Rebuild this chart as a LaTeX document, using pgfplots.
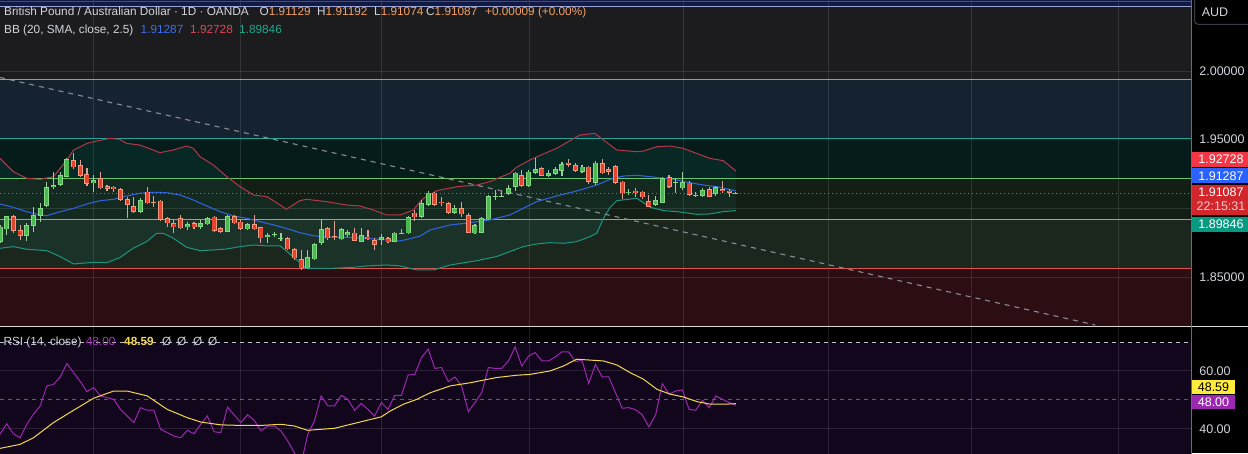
\documentclass[border=0pt]{standalone}
\usepackage{fontspec}
\setmainfont{Liberation Sans}
\usepackage{pgfplots}
\pgfplotsset{compat=1.18}
\usepackage{pgfplotstable}

\definecolor{zTop}{HTML}{101A45}
\definecolor{zGrey}{HTML}{1C1C1E}
\definecolor{zNavy}{HTML}{152230}
\definecolor{zTeal}{HTML}{061C1A}
\definecolor{zGreen}{HTML}{131E14}
\definecolor{zOlive}{HTML}{1B271D}
\definecolor{zRed}{HTML}{2B0D12}
\definecolor{lTop1}{HTML}{3A4AA0}
\definecolor{lTop2}{HTML}{9AA3D6}
\definecolor{lBlue}{HTML}{6AA6DC}
\definecolor{lTeal}{HTML}{26A69A}
\definecolor{lGreen}{HTML}{6FC36E}
\definecolor{lRed}{HTML}{E05252}
\definecolor{bbUc}{HTML}{B2394A}
\definecolor{bbMc}{HTML}{2F62D8}
\definecolor{bbLc}{HTML}{1E9480}
\definecolor{bbFill}{HTML}{26A69A}
\definecolor{trend}{HTML}{8A8D96}
\definecolor{curp}{HTML}{E0552E}
\definecolor{gBody}{HTML}{4CB850}
\definecolor{gEdge}{HTML}{86D886}
\definecolor{gWick}{HTML}{9ACF9A}
\definecolor{rBody}{HTML}{E4432D}
\definecolor{rEdge}{HTML}{F29A80}
\definecolor{rWick}{HTML}{E0A298}
\definecolor{rsiBg}{HTML}{12061D}
\definecolor{rsiLine}{HTML}{9C27B0}
\definecolor{rsiTxt}{HTML}{A43CB8}
\definecolor{rsiMA}{HTML}{F2D94A}
\definecolor{txt}{HTML}{D1D4DC}
\definecolor{orng}{HTML}{F5A062}
\definecolor{sepc}{HTML}{D8D8D8}
\definecolor{scaleLine}{HTML}{6A6D78}
\definecolor{boxRed}{HTML}{F23645}
\definecolor{boxBlue}{HTML}{2962FF}
\definecolor{boxCur}{HTML}{D1262B}
\definecolor{boxTeal}{HTML}{089981}
\definecolor{boxYel}{HTML}{FFEB3B}
\definecolor{boxPur}{HTML}{9C27B0}
\definecolor{hBlue}{HTML}{3D6FE8}
\definecolor{hRed}{HTML}{E04553}
\definecolor{hTeal}{HTML}{22A88E}
\definecolor{timer}{HTML}{FAC8C8}
\definecolor{audb}{HTML}{3A3D48}

\pgfplotstableread{
k o h l c
0 1.87586 1.88799 1.87465 1.88678
1 1.88484 1.89480 1.88071 1.89454
4 1.87998 1.88920 1.87659 1.88799
5 1.88750 1.90085 1.88314 1.89527
6 1.89478 1.90376 1.89042 1.90012
7 1.90182 1.91953 1.90085 1.91540
8 1.91540 1.92680 1.91395 1.91710
9 1.91710 1.92680 1.91637 1.92438
10 1.92317 1.93651 1.92268 1.93578
14 1.91831 1.92438 1.91225 1.92074
21 1.89769 1.90740 1.89697 1.90619
28 1.88629 1.89042 1.88435 1.88847
30 1.88678 1.89163 1.88532 1.88920
31 1.88847 1.89357 1.88799 1.89284
34 1.88314 1.89527 1.88289 1.89454
37 1.88484 1.88920 1.88435 1.88847
40 1.87901 1.88192 1.87465 1.88047
41 1.88071 1.88314 1.87901 1.88120
42 1.87756 1.88192 1.87659 1.87829
46 1.85645 1.86980 1.85572 1.86446
47 1.86300 1.87513 1.86252 1.87392
48 1.87513 1.89211 1.87343 1.88484
51 1.87756 1.88556 1.87707 1.88484
52 1.88047 1.88435 1.87901 1.88289
54 1.87586 1.88556 1.87538 1.88047
57 1.87707 1.88144 1.87343 1.87901
59 1.87586 1.88314 1.87538 1.88241
60 1.88168 1.88484 1.88144 1.88217
61 1.88192 1.89454 1.88144 1.89357
63 1.89406 1.90619 1.89284 1.90376
64 1.90255 1.91298 1.90182 1.91153
68 1.89697 1.90255 1.89600 1.90012
71 1.88193 1.88872 1.88144 1.88799
72 1.88241 1.89406 1.88193 1.89284
73 1.89212 1.90983 1.89163 1.90910
74 1.90813 1.91347 1.90619 1.90910
75 1.90861 1.91298 1.90813 1.90910
76 1.91055 1.91710 1.90983 1.91468
77 1.91589 1.92681 1.91298 1.92608
79 1.91638 1.92802 1.91589 1.92681
80 1.92608 1.93651 1.92511 1.92851
82 1.92390 1.92802 1.92317 1.92559
83 1.92511 1.92996 1.92438 1.92851
84 1.92754 1.93409 1.92365 1.93239
87 1.92681 1.93166 1.92608 1.93045
89 1.91880 1.93481 1.91686 1.93336
94 1.91104 1.91395 1.90983 1.91225
98 1.90255 1.90910 1.90182 1.90619
99 1.90425 1.92317 1.90376 1.92196
101 1.91880 1.92123 1.91153 1.91953
102 1.91468 1.92681 1.91347 1.91929
105 1.90910 1.91468 1.90861 1.91347
107 1.91055 1.91638 1.90910 1.91540
}\greentab

\pgfplotstableread{
k o h l c
2 1.89454 1.89527 1.88192 1.88387
3 1.88435 1.88799 1.87707 1.87998
11 1.93530 1.94015 1.92850 1.92996
12 1.93166 1.93530 1.92317 1.92389
13 1.92511 1.92923 1.91637 1.91783
15 1.92195 1.92680 1.91395 1.91468
16 1.91637 1.91710 1.91298 1.91443
17 1.91589 1.91662 1.91225 1.91395
18 1.91395 1.91468 1.90570 1.90619
19 1.90667 1.90861 1.89284 1.90255
20 1.90182 1.90861 1.89697 1.89745
22 1.91225 1.91540 1.90327 1.90376
23 1.90497 1.90910 1.90133 1.90424
24 1.90570 1.90619 1.89114 1.89163
25 1.89284 1.89357 1.88629 1.88920
26 1.88920 1.89163 1.88192 1.88629
27 1.89284 1.89527 1.88508 1.88556
29 1.88920 1.89042 1.88484 1.88629
32 1.89405 1.89454 1.88314 1.88362
33 1.88556 1.88678 1.88192 1.88314
35 1.89454 1.89527 1.88872 1.88920
36 1.89042 1.89163 1.88435 1.88508
38 1.88847 1.89527 1.88435 1.88484
39 1.88629 1.88678 1.87465 1.87829
43 1.87829 1.87950 1.86980 1.87028
44 1.87028 1.87101 1.86252 1.86373
45 1.86300 1.86980 1.85524 1.85645
49 1.88556 1.88678 1.87707 1.87829
50 1.87998 1.89114 1.87707 1.87901
53 1.88241 1.88556 1.87635 1.87659
55 1.87950 1.88435 1.87707 1.87756
56 1.87707 1.87829 1.86980 1.87343
58 1.87829 1.87901 1.87465 1.87538
62 1.89697 1.89891 1.89100 1.89357
65 1.91153 1.91225 1.90182 1.90255
66 1.90497 1.90813 1.90182 1.90376
67 1.90376 1.90497 1.89600 1.89697
69 1.90012 1.90497 1.89406 1.89575
70 1.89527 1.89648 1.88193 1.88241
78 1.92438 1.92802 1.91589 1.91638
81 1.92923 1.93045 1.92365 1.92390
85 1.93336 1.93578 1.93045 1.93190
86 1.93166 1.93336 1.92681 1.92754
88 1.93045 1.93093 1.91783 1.91953
90 1.93287 1.93578 1.92511 1.92559
91 1.92851 1.93045 1.92438 1.92681
92 1.93093 1.93166 1.91783 1.91880
93 1.91953 1.92026 1.90667 1.91104
95 1.91298 1.91468 1.90813 1.91104
96 1.91225 1.91298 1.90667 1.90813
97 1.90546 1.90983 1.90085 1.90133
100 1.92268 1.92438 1.91468 1.91589
103 1.91880 1.92026 1.90910 1.90983
104 1.90983 1.91225 1.90813 1.90910
106 1.91395 1.91589 1.90813 1.90861
108 1.91419 1.92026 1.91104 1.91298
109 1.91298 1.91395 1.90861 1.91153
110 1.91129 1.91192 1.91074 1.91087
}\redtab

\pgfplotstableread{
k p
0 1.93651
2 1.92680
4 1.92195
6 1.92123
8 1.92317
10 1.93530
11 1.94257
13 1.94743
14 1.94864
16.4 1.95106
17.9 1.95034
18.9 1.94743
20.9 1.94621
22.9 1.94257
23.9 1.94063
25.9 1.94257
27.9 1.94549
28.9 1.94379
29.9 1.93772
31.9 1.93166
33.9 1.92317
35.9 1.91589
37.9 1.90982
39.9 1.90861
41.9 1.90255
42.8 1.89939
44.8 1.90570
45.8 1.90667
48.8 1.90497
51.8 1.90255
53.8 1.90182
55.8 1.89891
57.8 1.89527
59.8 1.89527
61.8 1.89891
62.8 1.90497
63.3 1.90740
65.3 1.91298
68.3 1.91589
71.3 1.91710
73.2 1.91953
75.2 1.92365
76.2 1.92559
77.2 1.92996
79.2 1.93530
81.2 1.93966
83.2 1.94379
85.2 1.94937
86.7 1.95349
88.9 1.95471
90.2 1.94985
92.2 1.94258
95.2 1.94136
96.2 1.94185
98.2 1.94500
100.2 1.94549
102.1 1.94379
104.1 1.94015
106.1 1.93651
108.1 1.93481
110 1.92728
}\bbU

\pgfplotstableread{
k p
0 1.90327
2 1.90085
4 1.89769
6 1.89527
7 1.89478
9 1.89769
11 1.90012
13 1.90327
15 1.90570
17 1.90667
18.9 1.90910
20.9 1.91104
22.9 1.91176
24.9 1.91152
26.9 1.90982
28.9 1.90619
30.9 1.90182
32.9 1.89769
34.9 1.89454
36.9 1.89284
38.9 1.89042
40.9 1.88799
42.8 1.88556
44.8 1.88241
46.8 1.88023
48.8 1.87902
51.8 1.87902
54.8 1.87829
57.8 1.87707
59.8 1.87635
61.3 1.87800
62.8 1.87998
64.3 1.88435
67.3 1.88799
70.3 1.88969
73.2 1.89163
76.2 1.89527
78.2 1.90012
80.2 1.90497
83.2 1.90910
86.2 1.91274
89.2 1.91710
91.2 1.92123
93.2 1.92365
95.2 1.92414
97.2 1.92317
99.2 1.92196
101.2 1.92074
103.1 1.91880
105.1 1.91710
107.1 1.91589
110 1.91287
}\bbM

\pgfplotstableread{
k p
0 1.87101
2 1.87222
4 1.87028
7 1.86931
9 1.86494
11 1.85961
14 1.86082
16 1.86058
17.9 1.86421
19.9 1.87101
21.9 1.87586
23.4 1.88192
24.4 1.88192
25.9 1.87829
27.9 1.87174
29.9 1.86931
31.9 1.86980
33.9 1.87052
35.9 1.87222
37.9 1.87343
39.9 1.87271
41.9 1.87271
43.8 1.86494
45.8 1.85645
49.8 1.85645
52.8 1.85718
54.8 1.85815
57.8 1.85888
59.8 1.85815
62.3 1.85524
64.8 1.85524
67.3 1.85888
71.3 1.86203
74.2 1.86495
76.2 1.86858
78.2 1.87223
80.2 1.87416
82.2 1.87514
84.2 1.87465
86.2 1.87586
88.2 1.87950
89.2 1.88193
90.2 1.89284
91.2 1.90085
92.2 1.90570
95.2 1.90740
97.2 1.90085
99.2 1.89842
101.2 1.89770
104.1 1.89576
106.1 1.89600
108.1 1.89770
110 1.89846
}\bbL

% band area: upper band forward, lower band backward
\pgfplotstableread{
k p
0 1.93651
2 1.92680
4 1.92195
6 1.92123
8 1.92317
10 1.93530
11 1.94257
13 1.94743
14 1.94864
16.4 1.95106
17.9 1.95034
18.9 1.94743
20.9 1.94621
22.9 1.94257
23.9 1.94063
25.9 1.94257
27.9 1.94549
28.9 1.94379
29.9 1.93772
31.9 1.93166
33.9 1.92317
35.9 1.91589
37.9 1.90982
39.9 1.90861
41.9 1.90255
42.8 1.89939
44.8 1.90570
45.8 1.90667
48.8 1.90497
51.8 1.90255
53.8 1.90182
55.8 1.89891
57.8 1.89527
59.8 1.89527
61.8 1.89891
62.8 1.90497
63.3 1.90740
65.3 1.91298
68.3 1.91589
71.3 1.91710
73.2 1.91953
75.2 1.92365
76.2 1.92559
77.2 1.92996
79.2 1.93530
81.2 1.93966
83.2 1.94379
85.2 1.94937
86.7 1.95349
88.9 1.95471
90.2 1.94985
92.2 1.94258
95.2 1.94136
96.2 1.94185
98.2 1.94500
100.2 1.94549
102.1 1.94379
104.1 1.94015
106.1 1.93651
108.1 1.93481
110 1.92728
110 1.89846
108.1 1.89770
106.1 1.89600
104.1 1.89576
101.2 1.89770
99.2 1.89842
97.2 1.90085
95.2 1.90740
92.2 1.90570
91.2 1.90085
90.2 1.89284
89.2 1.88193
88.2 1.87950
86.2 1.87586
84.2 1.87465
82.2 1.87514
80.2 1.87416
78.2 1.87223
76.2 1.86858
74.2 1.86495
71.3 1.86203
67.3 1.85888
64.8 1.85524
62.3 1.85524
59.8 1.85815
57.8 1.85888
54.8 1.85815
52.8 1.85718
49.8 1.85645
45.8 1.85645
43.8 1.86494
41.9 1.87271
39.9 1.87271
37.9 1.87343
35.9 1.87222
33.9 1.87052
31.9 1.86980
29.9 1.86931
27.9 1.87174
25.9 1.87829
24.4 1.88192
23.4 1.88192
21.9 1.87586
19.9 1.87101
17.9 1.86421
16 1.86058
14 1.86082
11 1.85961
9 1.86494
7 1.86931
4 1.87028
2 1.87222
0 1.87101
}\bbPoly

\pgfplotstableread{
k v
0 37.9
1 41.6
2 38.1
3 36.7
4 41.4
5 44.9
6 47.8
7 54.8
8 55.3
9 57.9
10 62.6
11 59.4
12 56.3
13 52.8
14 54.2
15 51.3
16 50.7
17 50.1
18 46.6
19 44.3
20 42.0
21 47.2
22 46.3
23 46.3
24 39.7
25 38.5
26 37.3
27 36.7
28 39.3
29 38.1
30 41.4
31 44.3
32 38.8
33 38.5
34 47.4
35 44.7
36 42.0
37 44.7
38 42.8
39 39.1
40 40.8
41 40.8
42 39.1
43 35.6
44 31.5
45 27.4
46 37.9
47 42.6
48 51.3
49 47.8
50 47.8
51 51.5
52 50.1
53 46.3
54 48.7
55 46.6
56 44.3
57 49.0
58 46.6
59 51.5
60 51.5
61 58.6
62 58.8
63 64.7
64 67.6
65 60.9
66 61.2
67 56.3
68 57.9
69 54.8
70 45.8
71 49.0
72 52.4
73 61.2
74 60.9
75 60.9
76 63.5
77 68.4
78 61.7
79 65.2
80 66.4
81 63.5
82 63.5
83 64.9
84 66.7
85 66.7
86 63.3
87 63.7
88 55.6
89 62.3
90 57.9
91 57.9
92 52.4
93 47.0
94 47.2
95 46.5
96 44.7
97 40.5
98 44.7
99 55.6
100 51.9
101 53.0
102 53.4
103 46.6
104 46.3
105 49.8
106 47.2
107 51.3
108 50.1
109 49.0
110 48.0
}\rsitab

\pgfplotstableread{
k v
0 33.0
3 34.4
5 36.7
8 42.0
11 46.3
14 50.5
17 53.0
19 53.0
22 51.3
25 46.6
28 43.7
30 42.2
33 41.2
36 41.0
39 41.0
42 41.4
44 40.8
46 39.3
50 40.0
54 42.3
57 44.0
58.3 46.0
60.3 48.4
62.3 50.1
64.3 52.4
67.3 54.8
70.3 55.9
74.2 57.7
77.2 58.5
79.2 58.8
82.2 60.0
84.2 61.7
86.2 64.1
88.2 63.8
90.2 63.5
92.2 62.1
94.2 59.4
96.2 57.1
98.2 53.6
100.2 51.9
102.2 50.9
104.2 49.3
106.2 48.4
108.2 48.4
110 48.59
}\matab

\pgfplotsset{
  chartaxis/.style={scale only axis, anchor=south west, width=1191.5pt,
    xmin=0, xmax=178.1, axis line style={draw=none}, ticks=none},
  hline/.style={line width=1pt},
  gridl/.style={color=white, draw opacity=0.11, line width=1pt},
}
\newcommand\hdr{\fontsize{11.8}{13}\selectfont}
\newcommand\scl{\fontsize{12.5}{14}\selectfont}

% #1 table, #2 wick colour, #3 edge colour, #4 body colour
\newcommand\candles[4]{%
  \addplot[forget plot, draw=#2, line width=1.1pt,
    quiver={u=0, v={\thisrow{h}-\thisrow{l}}}]
    table[x=k, y=l] {#1};
  \addplot[forget plot, draw=#3, line width=5pt,
    quiver={u=0, v={max(abs(\thisrow{o}-\thisrow{c}),0.0008)}}]
    table[x=k, y expr={(\thisrow{o}+\thisrow{c})/2-max(abs(\thisrow{o}-\thisrow{c}),0.0008)/2}] {#1};
  \addplot[forget plot, draw=#4, line width=3.2pt,
    quiver={u=0, v={max(abs(\thisrow{o}-\thisrow{c})-0.0011,0)}}]
    table[x=k, y expr={min(\thisrow{o},\thisrow{c})+0.00055}] {#1};
}

\begin{document}
\begin{tikzpicture}
\useasboundingbox (0pt,0pt) rectangle (1248pt,453pt);
\fill[black] (0pt,0pt) rectangle (1248pt,453pt);

% ---------------- main price pane ----------------
\begin{axis}[chartaxis, at={(0pt,127.5pt)}, height=325.5pt, ymin=1.8148, ymax=2.0518]
% zones
\addplot[draw=none, fill=zTop] coordinates {(0,2.0474) (178.1,2.0474) (178.1,2.06) (0,2.06)};
\addplot[draw=none, fill=zGrey] coordinates {(0,1.9936) (178.1,1.9936) (178.1,2.0474) (0,2.0474)};
\addplot[draw=none, fill=zNavy] coordinates {(0,1.9511) (178.1,1.9511) (178.1,1.9936) (0,1.9936)};
\addplot[draw=none, fill=zTeal] coordinates {(0,1.9220) (178.1,1.9220) (178.1,1.9511) (0,1.9511)};
\addplot[draw=none, fill=zGreen] coordinates {(0,1.8921) (178.1,1.8921) (178.1,1.9220) (0,1.9220)};
\addplot[draw=none, fill=zOlive] coordinates {(0,1.8561) (178.1,1.8561) (178.1,1.8921) (0,1.8921)};
\addplot[draw=none, fill=zRed] coordinates {(0,1.80) (178.1,1.80) (178.1,1.8561) (0,1.8561)};
% grid
\pgfplotsinvokeforeach{13.95,35.98,56.95,79.12,102.14,123.9,145.25,167.16}{
  \addplot[gridl] coordinates {(#1,1.80) (#1,2.06)};}
\pgfplotsinvokeforeach{1.85,1.90,2.00}{
  \addplot[gridl] coordinates {(0,#1) (178.1,#1)};}
% zone lines
\addplot[hline, lTop1] coordinates {(0,2.0506) (178.1,2.0506)};
\addplot[hline, lTop2] coordinates {(0,2.0474) (178.1,2.0474)};
\addplot[hline, lBlue] coordinates {(0,1.9936) (178.1,1.9936)};
\addplot[hline, lTeal] coordinates {(0,1.9511) (178.1,1.9511)};
\addplot[hline, lGreen] coordinates {(0,1.9220) (178.1,1.9220)};
\addplot[hline, lGreen] coordinates {(0,1.8921) (178.1,1.8921)};
\addplot[hline, lRed] coordinates {(0,1.8561) (178.1,1.8561)};
% Bollinger bands
\addplot[fill=bbFill, fill opacity=0.09, draw=none] table[x=k,y=p] {\bbPoly};
\addplot[draw=bbUc, line width=1pt] table[x=k,y=p] {\bbU};
\addplot[draw=bbLc, line width=1pt] table[x=k,y=p] {\bbL};
\addplot[draw=bbMc, line width=1.1pt] table[x=k,y=p] {\bbM};
% trend line and current price
\addplot[trend, line width=1.1pt, dash pattern=on 5pt off 5pt] coordinates {(0,1.99537) (163.7,1.81518)};
\addplot[curp, line width=1pt, dash pattern=on 1pt off 3pt] coordinates {(0,1.91087) (178.1,1.91087)};
% candles
\candles{\greentab}{gWick}{gEdge}{gBody}
\candles{\redtab}{rWick}{rEdge}{rBody}
\end{axis}

% ---------------- RSI pane ----------------
\begin{axis}[chartaxis, at={(0pt,0pt)}, height=126pt, ymin=31.385, ymax=75.34]
\addplot[draw=none, fill=rsiBg] coordinates {(0,30) (178.1,30) (178.1,70) (0,70)};
\pgfplotsinvokeforeach{13.95,35.98,56.95,79.12,102.14,123.9,145.25,167.16}{
  \addplot[gridl] coordinates {(#1,20) (#1,80)};}
\pgfplotsinvokeforeach{40,60}{
  \addplot[gridl] coordinates {(0,#1) (178.1,#1)};}
\addplot[color=white, draw opacity=0.75, line width=1pt, dash pattern=on 4pt off 4pt] coordinates {(0,70) (178.1,70)};
\addplot[color=white, draw opacity=0.35, line width=1pt, dash pattern=on 4pt off 4pt] coordinates {(0,50) (178.1,50)};
\addplot[rsiLine, line width=1pt] table[x=k,y=v] {\rsitab};
\addplot[rsiMA, line width=1pt] table[x=k,y=v] {\matab};
\end{axis}

% separators
\draw[sepc, line width=1pt] (0pt,126.8pt) -- (1248pt,126.8pt);
\draw[scaleLine, line width=1pt] (1191.5pt,0pt) -- (1191.5pt,453pt);

% header texts
\begin{scope}[every node/.style={anchor=base west, inner sep=0pt, font=\hdr, text=txt}]
\node at (4pt,437pt) {British Pound / Australian Dollar · 1D · OANDA};
\node at (259.5pt,437pt) {O\textcolor{orng}{1.91129}};
\node at (317pt,437pt) {H\textcolor{orng}{1.91192}};
\node at (374pt,437pt) {L\textcolor{orng}{1.91074}};
\node at (426pt,437pt) {C\textcolor{orng}{1.91087}};
\node[text=orng] at (485pt,437pt) {+0.00009 (+0.00\%)};
\node at (4pt,419pt) {BB (20, SMA, close, 2.5)};
\node[text=hBlue] at (140.5pt,419pt) {1.91287};
\node[text=hRed] at (190pt,419pt) {1.92728};
\node[text=hTeal] at (239pt,419pt) {1.89846};
\node at (3.3pt,107pt) {RSI (14, close)};
\node[text=rsiTxt] at (85.7pt,107pt) {48.00};
\node[text=rsiMA] at (124pt,107pt) {\bfseries 48.59};
\node at (162pt,107pt) {Ø};
\node at (177pt,107pt) {Ø};
\node at (193pt,107pt) {Ø};
\node at (208pt,107pt) {Ø};
\end{scope}

% price scale
\draw[audb, line width=1pt, rounded corners=4pt, fill=black] (1194.5pt,428.5pt) rectangle (1262pt,460pt);
\fill[boxRed] (1192pt,286.3pt) rectangle (1248pt,301.3pt);
\fill[boxBlue] (1192pt,269.7pt) rectangle (1248pt,284.7pt);
\fill[boxCur] (1192pt,238pt) rectangle (1248pt,268pt);
\fill[boxTeal] (1192pt,221.3pt) rectangle (1248pt,236.3pt);
\fill[boxYel] (1192pt,59.5pt) rectangle (1235pt,73pt);
\fill[boxPur] (1192pt,44.5pt) rectangle (1235pt,58.5pt);
\begin{scope}[every node/.style={anchor=base, inner sep=0pt, font=\scl, text=txt}]
\node at (1215pt,436pt) {AUD};
\node at (1222pt,377.5pt) {2.00000};
\node at (1222pt,309.5pt) {1.95000};
\node at (1222pt,171.5pt) {1.85000};
\node[text=white] at (1221pt,289.3pt) {1.92728};
\node[text=white] at (1221pt,272.7pt) {1.91287};
\node[text=white] at (1221pt,256pt) {1.91087};
\node[text=timer] at (1221pt,242pt) {22:15:31};
\node[text=white] at (1221pt,224.3pt) {1.89846};
\node at (1215pt,77.5pt) {60.00};
\node[text=black] at (1213.5pt,61.5pt) {48.59};
\node[text=white] at (1213.5pt,47pt) {48.00};
\node at (1215pt,19.5pt) {40.00};
\end{scope}
\end{tikzpicture}
\end{document}
